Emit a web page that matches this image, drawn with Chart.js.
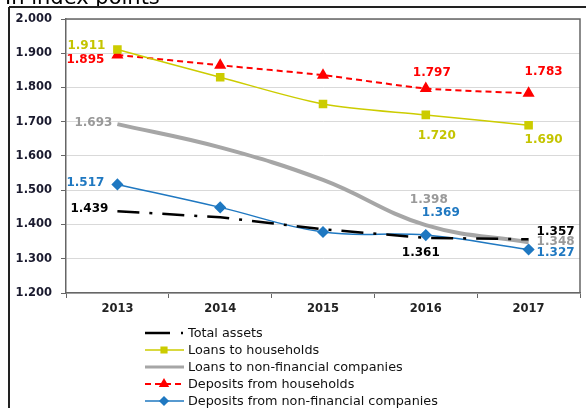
<!DOCTYPE html>
<html>
<head>
<meta charset="utf-8">
<script src="https://cdn.jsdelivr.net/npm/chart.js@4.4.0/dist/chart.umd.min.js"></script>
<style>
  html, body { margin: 0; padding: 0; background: #fff; }
  #wrap { width: 587px; height: 408px; }
</style>
</head>
<body>
<div id="wrap"><canvas id="myChart" width="587" height="408"></canvas></div>
<script>
// data
var years = ['2013', '2014', '2015', '2016', '2017'];
var totalAssets = [1.439, 1.421, 1.386, 1.361, 1.357];
var loansHouseholds = [1.911, 1.830, 1.752, 1.720, 1.690];
var loansCompanies = [1.693, 1.625, 1.530, 1.398, 1.348];
var depositsHouseholds = [1.895, 1.865, 1.836, 1.797, 1.783];
var depositsCompanies = [1.517, 1.450, 1.378, 1.369, 1.327];
var yTicks = [1.2, 1.3, 1.4, 1.5, 1.6, 1.7, 1.8, 1.9, 2.0];
var labelled = [0, 3, 4]; // which years carry a value label

// label offsets from the point, per dataset (dx, dy), same order as labelled
var labelOffsets = [
  [[-28, -2], [-5, 15], [27, -7]],
  [[-31, -4], [11, 21], [15, 15]],
  [[-24, -1], [3, -25], [27, 0]],
  [[-32, 5], [6, -16], [15, -21]],
  [[-32, -2], [15, -22], [27, 3]]
];

var ctx = document.getElementById('myChart').getContext('2d');

var frame = {
  id: 'frame',
  beforeDraw: function(chart) {
    var c = chart.ctx;
    c.save();
    c.fillStyle = '#fff';
    c.fillRect(0, 0, chart.width, chart.height);
    c.fillStyle = '#000';
    c.font = '21px "DejaVu Sans"';
    c.textBaseline = 'alphabetic';
    c.fillText('In index points', 5, 4);
    c.strokeStyle = '#222';
    c.lineWidth = 2;
    c.beginPath();
    c.moveTo(9, 7); c.lineTo(586, 7);
    c.moveTo(9, 7); c.lineTo(9, 408);
    c.stroke();
    c.restore();
  },
  afterDraw: function(chart) {
    var c = chart.ctx, a = chart.chartArea;
    c.save();
    c.strokeStyle = '#666';
    c.lineWidth = 1.5;
    c.beginPath();
    c.moveTo(a.left, a.top); c.lineTo(a.right, a.top); c.lineTo(a.right, a.bottom);
    c.stroke();

    // value labels
    c.font = 'bold 12px "DejaVu Sans"';
    c.textAlign = 'center';
    c.textBaseline = 'middle';
    chart.data.datasets.forEach(function(ds, i) {
      var meta = chart.getDatasetMeta(i);
      labelled.forEach(function(idx, k) {
        var p = meta.data[idx];
        var off = labelOffsets[i][k];
        c.fillStyle = ds.labelColor;
        c.fillText(ds.data[idx].toFixed(3), p.x + off[0], p.y + off[1]);
      });
    });

    // legend as a single column
    c.textAlign = 'left';
    c.font = '12.8px "DejaVu Sans"';
    chart.data.datasets.forEach(function(ds, i) {
      var y = 333 + i * 17;
      c.save();
      c.strokeStyle = ds.borderColor;
      c.lineWidth = Math.min(ds.borderWidth, 3);
      if (i === 0) {
        c.lineWidth = 2.5;
        c.beginPath(); c.moveTo(145, y); c.lineTo(170, y); c.stroke();
        c.beginPath(); c.moveTo(181, y); c.lineTo(183, y); c.stroke();
      } else {
        c.setLineDash(ds.borderDash || []);
        c.beginPath(); c.moveTo(145, y); c.lineTo(184, y); c.stroke();
        c.setLineDash([]);
        if (ds.pointRadius > 0) {
          Chart.helpers.drawPoint(c, {
            pointStyle: ds.pointStyle, radius: ds.pointRadius - 1, borderWidth: 1
          }, 164, y);
          c.fillStyle = ds.pointBackgroundColor;
          c.fill();
        }
      }
      c.restore();
      c.fillStyle = '#111';
      c.fillText(ds.label, 188, y + 1);
    });
    c.restore();
  }
};

var myChart = new Chart(ctx, {
  type: 'line',
  data: {
    labels: years,
    datasets: [{
      label: 'Total assets',
      data: totalAssets,
      borderColor: '#000',
      borderWidth: 2.5,
      borderDash: [22, 10, 3, 10],
      pointRadius: 0,
      tension: 0,
      labelColor: '#000'
    }, {
      label: 'Loans to households',
      data: loansHouseholds,
      borderColor: '#cccc00',
      borderWidth: 1.5,
      pointStyle: 'rect',
      pointRadius: 5,
      pointBackgroundColor: '#cccc00',
      pointBorderColor: '#cccc00',
      tension: 0.3,
      labelColor: '#c4c400'
    }, {
      label: 'Loans to non-financial companies',
      data: loansCompanies,
      borderColor: '#a6a6a6',
      borderWidth: 4,
      pointRadius: 0,
      tension: 0.4,
      labelColor: '#999'
    }, {
      label: 'Deposits from households',
      data: depositsHouseholds,
      borderColor: '#ff0000',
      borderWidth: 2,
      borderDash: [6, 4],
      pointStyle: 'triangle',
      pointRadius: 5,
      pointBackgroundColor: '#ff0000',
      pointBorderColor: '#ff0000',
      tension: 0.2,
      labelColor: '#ff0000'
    }, {
      label: 'Deposits from non-financial companies',
      data: depositsCompanies,
      borderColor: '#1f78c1',
      borderWidth: 1.5,
      pointStyle: 'rectRot',
      pointRadius: 5,
      pointBackgroundColor: '#1f78c1',
      pointBorderColor: '#1f78c1',
      tension: 0.4,
      labelColor: '#1f78c1'
    }]
  },
  options: {
    responsive: false,
    animation: false,
    layout: { padding: { left: 9, right: 1, top: 19, bottom: 90 } },
    plugins: { legend: { display: false }, tooltip: { enabled: false } },
    scales: {
      x: {
        offset: true,
        afterFit: function(s) { s.height = 25; },
        grid: { offset: true, drawOnChartArea: false, tickLength: 5, color: '#666' },
        border: { color: '#666', width: 1.5 },
        ticks: { color: '#222', font: { family: 'DejaVu Sans', size: 11.5, weight: 'bold' }, padding: 4 }
      },
      y: {
        min: yTicks[0],
        max: yTicks[yTicks.length - 1],
        afterFit: function(s) { s.width = 57; },
        afterBuildTicks: function(s) { s.ticks = yTicks.map(function(v) { return { value: v }; }); },
        grid: { color: '#d9d9d9', lineWidth: 1, tickLength: 5, tickColor: '#666' },
        border: { color: '#666', width: 1.5 },
        ticks: {
          color: '#1a1a2e',
          font: { family: 'DejaVu Sans', size: 11.5, weight: 'bold' },
          padding: 9,
          callback: function(v) { return Number(v).toFixed(3); }
        }
      }
    }
  },
  plugins: [frame]
});
</script>
</body>
</html>
